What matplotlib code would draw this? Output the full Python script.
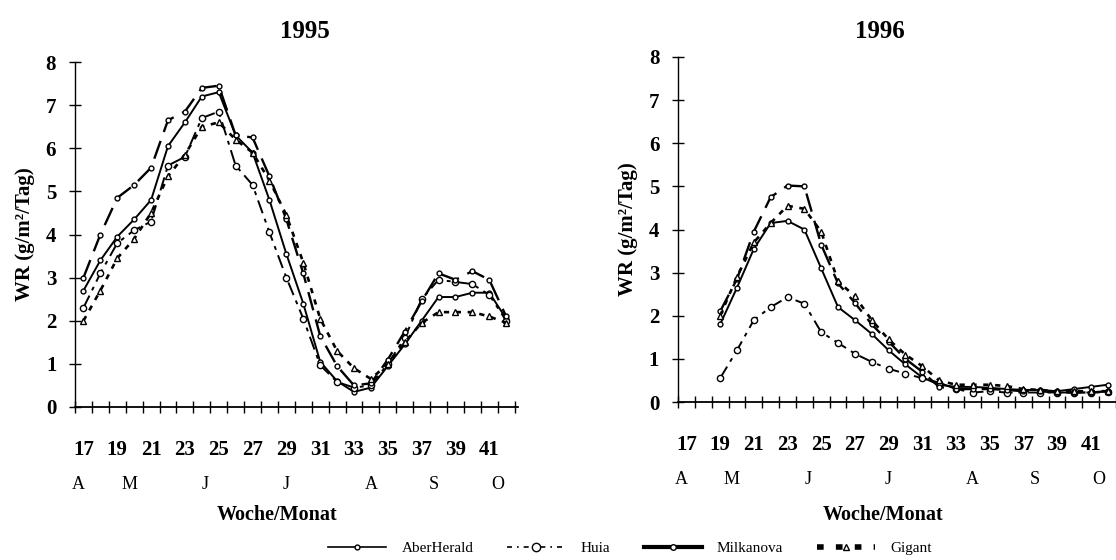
import numpy as np
import matplotlib
matplotlib.use("Agg")
import matplotlib.pyplot as plt
from matplotlib.lines import Line2D

plt.rcParams['font.family'] = ['Liberation Serif', 'DejaVu Serif']

# weeks of the year
weeks95 = list(range(17, 43))
weeks96 = list(range(19, 43))

# WR (g/m2/Tag), 1995
aber95 = [2.7, 3.4, 3.95, 4.35, 4.8, 6.05, 6.6, 7.2, 7.3, 6.3, 5.9, 4.8, 3.55,
          2.4, 1.05, 0.6, 0.35, 0.45, 0.95, 1.45, 2.0, 2.55, 2.55, 2.65, 2.65, 2.05]
huia95 = [2.3, 3.1, 3.8, 4.1, 4.3, 5.6, 5.8, 6.7, 6.85, 5.6, 5.15, 4.05, 3.0,
          2.05, 0.97, 0.58, 0.45, 0.5, 1.0, 1.6, 2.5, 2.95, 2.9, 2.85, 2.6, 2.0]
milk95 = [3.0, 4.0, 4.85, 5.15, 5.55, 6.65, 6.85, 7.4, 7.45, 6.3, 6.25, 5.35, 4.35,
          3.1, 1.65, 0.95, 0.5, 0.55, 1.1, 1.75, 2.45, 3.1, 2.95, 3.15, 2.95, 2.1]
gig95 = [2.0, 2.7, 3.45, 3.9, 4.5, 5.35, 5.85, 6.5, 6.6, 6.2, 5.9, 5.25, 4.45,
         3.35, 2.05, 1.3, 0.9, 0.65, 1.0, 1.5, 1.95, 2.2, 2.2, 2.2, 2.1, 1.95]

# WR (g/m2/Tag), 1996
aber96 = [1.8, 2.65, 3.55, 4.15, 4.2, 4.0, 3.1, 2.2, 1.9, 1.58, 1.2, 0.87,
          0.57, 0.4, 0.35, 0.35, 0.33, 0.3, 0.28, 0.28, 0.25, 0.3, 0.35, 0.4]
huia96 = [0.55, 1.2, 1.9, 2.2, 2.43, 2.28, 1.62, 1.37, 1.12, 0.93, 0.77, 0.66,
          0.55, 0.45, 0.3, 0.22, 0.25, 0.22, 0.22, 0.22, 0.22, 0.22, 0.22, 0.23]
milk96 = [2.1, 2.85, 3.95, 4.75, 5.02, 5.0, 3.65, 2.75, 2.3, 1.8, 1.4, 1.0,
          0.7, 0.35, 0.3, 0.3, 0.3, 0.28, 0.25, 0.25, 0.22, 0.22, 0.22, 0.25]
gig96 = [2.0, 2.9, 3.7, 4.15, 4.55, 4.48, 3.95, 2.8, 2.45, 1.9, 1.45, 1.1,
         0.83, 0.5, 0.4, 0.4, 0.4, 0.37, 0.3, 0.28, 0.25, 0.25, 0.25, 0.25]

week_labels = list(range(17, 42, 2))
months = ["A", "M", "J", "J", "A", "S", "O"]
month_pos = [16.7, 19.7, 24.2, 29.0, 34.0, 37.7, 41.5]
names = ["AberHerald", "Huia", "Milkanova", "Gigant"]

fig = plt.figure(figsize=(11.16, 5.6), dpi=100)
W, H = 1116, 560
ax1 = fig.add_axes([75 / W, 1 - 407 / H, (518 - 75) / W, (407 - 62) / H])
ax2 = fig.add_axes([678 / W, 1 - 402 / H, (1116 - 678) / W, (402 - 57) / H])


def draw(ax, weeks, aber, huia, milk, gig, xmax):
    ax.plot(weeks, aber, color='k', lw=1.4, marker='o', ms=3.5, mfc='white', mew=1)
    ax.plot(weeks, huia, color='k', lw=1.4, dashes=(7, 3, 2, 3), marker='o', ms=4.5,
            mfc='white', mew=1)
    ax.plot(weeks, milk, color='k', lw=1.7, dashes=(8, 4), marker='o', ms=3.5,
            mfc='white', mew=1)
    ax.plot(weeks, gig, color='k', lw=1.9, dashes=(2, 2.5), marker='^', ms=4,
            mfc='white', mew=1)
    ax.set_xlim(16.5, xmax)
    ax.set_ylim(0, 8)
    for s in ['top', 'right']:
        ax.spines[s].set_visible(False)
    ax.spines['left'].set_linewidth(1)
    ax.spines['bottom'].set_linewidth(1.3)
    ax.set_yticks(range(0, 9))
    ax.tick_params(axis='y', direction='inout', length=9, width=1, pad=9,
                   labelsize=15)
    for t in ax.get_yticklabels():
        t.set_fontweight('bold')
    ax.set_xticks(week_labels)
    ax.set_xticklabels([str(w) for w in week_labels], fontweight='bold')
    ax.set_xticks(np.arange(16.5, 43, 1.0), minor=True)
    ax.tick_params(axis='x', which='major', length=0, pad=24, labelsize=15)
    ax.tick_params(axis='x', which='minor', direction='inout', length=9, width=1)
    for m, p in zip(months, month_pos):
        ax.text(p, -0.225, m, transform=ax.get_xaxis_transform(), ha='center',
                va='center', fontsize=13, clip_on=False)
    ax.set_ylabel("WR (g/m²/Tag)", fontsize=15, fontweight='bold', labelpad=8)


draw(ax1, weeks95, aber95, huia95, milk95, gig95, 42.7)
draw(ax2, weeks96, aber96, huia96, milk96, gig96, 42.3)

fig.text(305 / W, 1 - 32 / H, "1995", ha='center', va='center', fontsize=18,
         fontweight='bold')
fig.text(880 / W, 1 - 32 / H, "1996", ha='center', va='center', fontsize=18,
         fontweight='bold')
fig.text(277 / W, 1 - 515 / H, "Woche/Monat", ha='center', va='center',
         fontsize=14.5, fontweight='bold')
fig.text(883 / W, 1 - 515 / H, "Woche/Monat", ha='center', va='center',
         fontsize=14.5, fontweight='bold')

handles = [
    Line2D([], [], color='k', lw=1.2, marker='o', ms=3.5, mfc='white'),
    Line2D([], [], color='k', lw=1.2, dashes=(3, 3, 1, 3), marker='o', ms=6,
           mfc='white'),
    Line2D([], [], color='k', lw=3, marker='o', ms=4, mfc='white'),
    Line2D([], [], color='k', lw=4, dashes=(1.2, 2.2), marker='^', ms=5,
           mfc='white'),
]
fig.legend(handles, names, loc='center', bbox_to_anchor=(630 / W, 1 - 548 / H),
           ncol=4, frameon=False, fontsize=11, handlelength=3.8, columnspacing=2.2,
           handletextpad=1.0)

fig.savefig("out.png", dpi=100)
